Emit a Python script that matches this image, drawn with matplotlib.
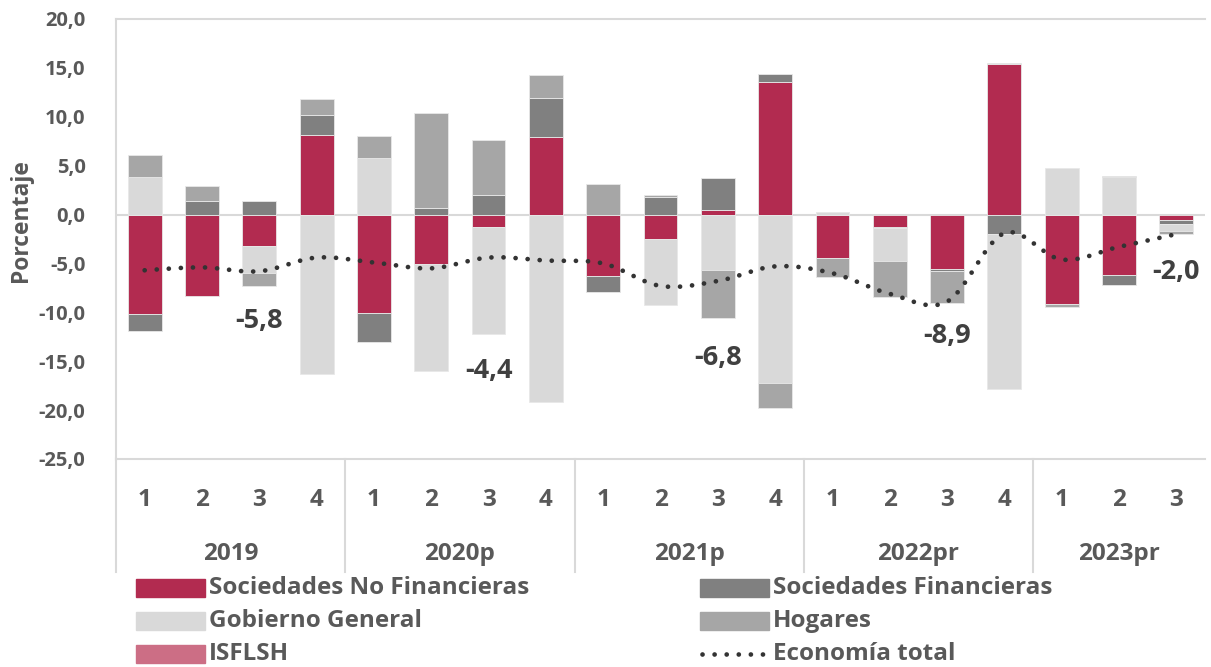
import numpy as np
import matplotlib
matplotlib.use("Agg")
import matplotlib.pyplot as plt
from matplotlib.patches import Rectangle
from matplotlib.lines import Line2D

plt.rcParams['font.family'] = ['Open Sans', 'DejaVu Sans']
plt.rcParams['font.weight'] = 'bold'

years = ["2019", "2020p", "2021p", "2022pr", "2023pr"]
quarters = ["1", "2", "3", "4", "1", "2", "3", "4", "1", "2", "3", "4",
            "1", "2", "3", "4", "1", "2", "3"]
year_sizes = [4, 4, 4, 4, 3]

series_names = ["Sociedades No Financieras", "Sociedades Financieras",
                "Gobierno General", "Hogares", "ISFLSH"]
snf = [-10.2, -8.3, -3.2, 8.1, -10.1, -5.1, -1.3, 7.9, -6.3, -2.5, 0.5, 13.6,
       -4.4, -1.3, -5.6, 15.4, -9.15, -6.15, -0.6]
sf = [-1.7, 1.4, 1.4, 2.1, -2.9, 0.7, 2.0, 4.0, -1.6, 1.8, 3.2, 0.8,
      0.0, -0.1, -0.2, -2.0, 0.0, -1.05, -0.4]
gob = [3.8, 0.0, -2.8, -16.3, 5.8, -10.9, -10.9, -19.2, 0.0, -6.7, -5.7, -17.2,
       0.25, -3.3, 0.0, -15.8, 4.8, 3.8, -0.7]
hog = [2.3, 1.5, -1.3, 1.6, 2.2, 9.7, 5.65, 2.4, 3.1, 0.25, -4.9, -2.6,
       -2.0, -3.7, -3.2, 0.15, -0.35, 0.1, -0.3]
isflsh = [0.0, 0.0, 0.0, 0.0, 0.0, 0.0, 0.0, 0.0, 0.0, 0.0, 0.0, 0.0,
          0.06, 0.0, 0.0, 0.0, 0.0, 0.0, 0.0]
total = [-5.7, -5.4, -5.8, -4.4, -4.9, -5.5, -4.4, -4.7, -5.0, -7.3, -6.8, -5.3,
         -6.0, -8.1, -8.9, -1.9, -4.6, -3.3, -2.0]
total_name = "Economía total"
label_idx = [2, 6, 10, 14, 18]
label_texts = ["-5,8", "-4,4", "-6,8", "-8,9", "-2,0"]
label_y = [-10.9, -16.0, -14.7, -12.4, -5.9]
yticks = [20, 15, 10, 5, 0, -5, -10, -15, -20, -25]

colors = ["#B22B50", "#808080", "#D9D9D9", "#A6A6A6", "#CC6E85"]
txt_col = "#595959"
grid_col = "#D9D9D9"

W, H = 1211, 667
fig = plt.figure(figsize=(W / 100, H / 100), dpi=100)
L, R, B, T = 116, 1205, 459, 19
ax = fig.add_axes([L / W, 1 - B / H, (R - L) / W, (B - T) / H])

x = np.arange(len(quarters))
pos_base = np.zeros(len(x))
neg_base = np.zeros(len(x))
for vals, c in zip([snf, sf, gob, hog, isflsh], colors):
    v = np.array(vals, dtype=float)
    pos = np.where(v > 0, v, 0)
    neg = np.where(v < 0, v, 0)
    mp = v > 0
    mn = v < 0
    ax.bar(x[mp], pos[mp], bottom=pos_base[mp], width=0.59, color=c,
           edgecolor="#E8E8E8", linewidth=0.6, zorder=2)
    ax.bar(x[mn], neg[mn], bottom=neg_base[mn], width=0.59, color=c,
           edgecolor="#E8E8E8", linewidth=0.6, zorder=2)
    pos_base += pos
    neg_base += neg

# smoothed line (cubic Bezier through the points, Excel-like)
P = np.column_stack([x, total]).astype(float)
n = len(P)
pts = []
for i in range(n - 1):
    p0 = P[max(i - 1, 0)]
    p1 = P[i]
    p2 = P[i + 1]
    p3 = P[min(i + 2, n - 1)]
    c1 = p1 + (p2 - p0) / 6.0
    c2 = p2 - (p3 - p1) / 6.0
    t = np.linspace(0, 1, 30, endpoint=(i == n - 2))[:, None]
    seg = ((1 - t) ** 3) * p1 + 3 * ((1 - t) ** 2) * t * c1 + 3 * (1 - t) * t ** 2 * c2 + t ** 3 * p2
    pts.append(seg)
pts = np.vstack(pts)
ax.plot(pts[:, 0], pts[:, 1], color="#333333", lw=3.4,
        linestyle=(0, (0.01, 2.55)), dash_capstyle="round", zorder=4)

ax.axhline(0, color=grid_col, lw=1.5, zorder=1)

for i, t_, yy in zip(label_idx, label_texts, label_y):
    ax.text(x[i], yy, t_, ha="center", va="center", fontsize=19.5,
            fontweight="bold", color="#404040", zorder=5)

ax.set_xlim(-0.5, len(x) - 0.5)
ax.set_ylim(-25, 20)
ax.set_yticks(yticks)
ax.set_yticklabels([f"{v:.1f}".replace(".", ",") for v in yticks])
ax.tick_params(axis="y", length=0, pad=22, labelsize=14.5, labelcolor=txt_col)
ax.set_xticks([])
for s in ["left", "top", "bottom"]:
    ax.spines[s].set_color(grid_col)
    ax.spines[s].set_linewidth(1.5)
ax.spines["right"].set_visible(False)

ax.set_ylabel("Porcentaje", fontsize=16.5, fontweight="bold", color=txt_col)
ax.yaxis.set_label_coords(-0.076, 0.543)

# category axis
tr = ax.get_xaxis_transform()
for i, q in enumerate(quarters):
    ax.text(x[i], -0.093, q, transform=tr, ha="center", va="center",
            fontsize=17.5, fontweight="bold", color=txt_col)
start = 0
bounds = [-0.5]
for yname, sz in zip(years, year_sizes):
    ctr = start + (sz - 1) / 2
    ax.text(ctr, -0.216, yname, transform=tr, ha="center", va="center",
            fontsize=17.5, fontweight="bold", color=txt_col)
    start += sz
    bounds.append(start - 0.5)
sep_bottom = (B - 572) / (B - T)
for b in bounds[:-1]:
    ax.add_line(Line2D([b, b], [0, sep_bottom], transform=tr, color=grid_col,
                       lw=1.5, clip_on=False))

# legend (manual)
leg_rows = [588, 621, 654]
entries = [(0, 0), (1, 0), (0, 1), (1, 1), (0, 2)]
col_x = [136, 700]
for k, (cx, ry) in enumerate(entries):
    x0 = col_x[cx]
    yc = leg_rows[ry]
    fig.patches.append(Rectangle((x0 / W, 1 - (yc + 9) / H), 69 / W, 18 / H,
                                 transform=fig.transFigure, color=colors[k]))
    fig.text((x0 + 73) / W, 1 - yc / H, series_names[k], ha="left", va="center",
             fontsize=17.5, fontweight="bold", color=txt_col)
yc = leg_rows[2]
fig.add_artist(Line2D([702 / W, 766 / W], [1 - yc / H, 1 - yc / H],
                      transform=fig.transFigure, color="#333333", lw=3.4,
                      linestyle=(0, (0.01, 2.55)), dash_capstyle="round"))
fig.text((700 + 73) / W, 1 - yc / H, total_name, ha="left", va="center",
         fontsize=17.5, fontweight="bold", color=txt_col)

fig.savefig("out.png", dpi=100)
